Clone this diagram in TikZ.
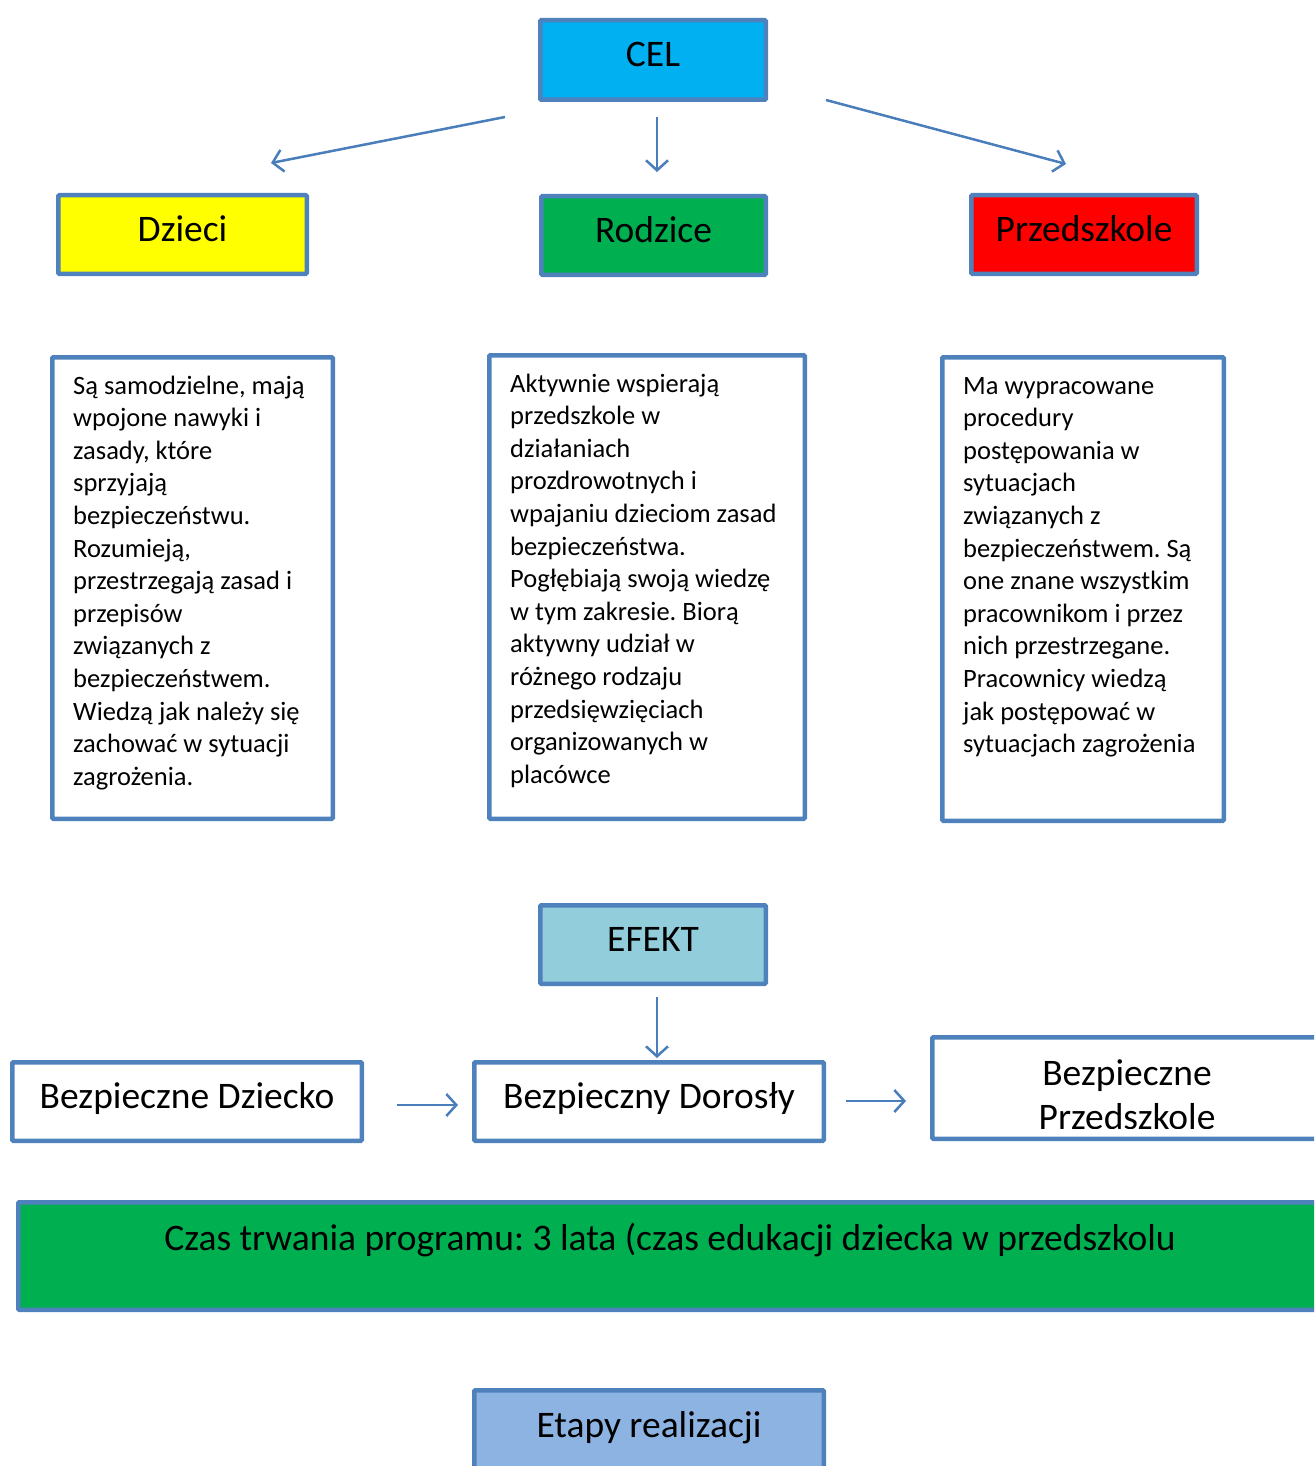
\documentclass[tikz,border=0pt]{standalone}
\usepackage{fontspec}
\setmainfont{Carlito}
\frenchspacing
\usetikzlibrary{arrows.meta}
\definecolor{obrys}{HTML}{4F81BD}
\definecolor{strzalka}{HTML}{4A7EBB}
\definecolor{niebieski}{HTML}{00B0F0}
\definecolor{zolty}{HTML}{FFFF00}
\definecolor{zielony}{HTML}{00B050}
\definecolor{czerwony}{HTML}{FF0000}
\definecolor{jasnyefekt}{HTML}{92CDDC}
\definecolor{jasnyetap}{HTML}{8DB3E2}
\tikzset{
  ramka/.style={draw=obrys, line width=4.5pt, rectangle, rounded corners=1pt, inner sep=0pt,
    font=\fontsize{37.5}{45}\selectfont, text height=24pt, text depth=10pt},
  strz/.style={draw=strzalka, line width=2.5pt, -{Straight Barb[length=10pt,width=22pt]}},
  opis/.style={anchor=base west, inner sep=0pt, font=\fontsize{26.5}{32.6}\selectfont}
}

\begin{document}
\begin{tikzpicture}[x=1pt,y=-1pt]
\useasboundingbox (0,0) rectangle (1314,1466);
\clip (0,0) rectangle (1314,1466);

% gora
\node[ramka, fill=niebieski, minimum width=225.5, minimum height=79.5] (cel) at (653,60) {CEL};
\node[ramka, fill=zolty, minimum width=248.5, minimum height=78.5] (dzieci) at (182.5,234.5) {Dzieci};
\node[ramka, fill=zielony, minimum width=224.5, minimum height=78.5] (rodzice) at (653.5,235.5) {Rodzice};
\node[ramka, fill=czerwony, minimum width=225.5, minimum height=78.5] (przedszkole) at (1084,234.5) {Przedszkole};

\coordinate (c1) at (505,117); \coordinate (d1) at (271,163);
\coordinate (c2) at (657,117); \coordinate (d2) at (657,172);
\coordinate (c3) at (826,100); \coordinate (d3) at (1066,164);
\draw[strz] (c1) -- (d1);
\draw[strz] (c2) -- (d2);
\draw[strz] (c3) -- (d3);

% opisy
\node[ramka, minimum width=280.5, minimum height=461.5] (opisdzieci) at (192.5,588) {};
\node[ramka, minimum width=315.5, minimum height=463.5] (opisrodzice) at (647,587) {};
\node[ramka, minimum width=281.5, minimum height=463.5] (opisprzedszkole) at (1083,589) {};

\node[opis] (tekstdzieci) at (73,394) {\parbox[t]{260pt}{\raggedright
Są samodzielne, mają\\ wpojone nawyki i\\ zasady, które\\ sprzyjają\\ bezpieczeństwu.\\
Rozumieją,\\ przestrzegają zasad i\\ przepisów\\ związanych z\\ bezpieczeństwem.\\
Wiedzą jak należy się\\ zachować w sytuacji\\ zagrożenia.}};
\node[opis] (tekstrodzice) at (510,392) {\parbox[t]{290pt}{\raggedright
Aktywnie wspierają\\ przedszkole w\\ działaniach\\ prozdrowotnych i\\ wpajaniu dzieciom zasad\\
bezpieczeństwa.\\ Pogłębiają swoją wiedzę\\ w tym zakresie. Biorą\\ aktywny udział w\\
różnego rodzaju\\ przedsięwzięciach\\ organizowanych w\\ placówce}};
\node[opis] (tekstprzedszkole) at (963,394) {\parbox[t]{260pt}{\raggedright
Ma wypracowane\\ procedury\\ postępowania w\\ sytuacjach\\ związanych z\\
bezpieczeństwem. Są\\ one znane wszystkim\\ pracownikom i przez\\ nich przestrzegane.\\
Pracownicy wiedzą\\ jak postępować w\\ sytuacjach zagrożenia}};

% efekt
\node[ramka, fill=jasnyefekt, minimum width=225.5, minimum height=78.5] (efekt) at (653,944.5) {EFEKT};
\node[ramka, minimum width=349.5, minimum height=78.5] (dziecko) at (187,1101.5) {Bezpieczne Dziecko};
\node[ramka, minimum width=349.5, minimum height=78.5] (dorosly) at (649,1101.5) {Bezpieczny Dorosły};
\node[ramka, minimum width=389.5, minimum height=101.5] (bezpprzedszkole) at (1127,1088) {};
\begin{scope}
\clip (934,1039) rectangle (1320,1128);
\node[anchor=base, inner sep=0pt, font=\fontsize{37.5}{44}\selectfont] (tekstbezp1) at (1127,1085) {Bezpieczne};
\node[anchor=base, inner sep=0pt, font=\fontsize{37.5}{44}\selectfont] (tekstbezp2) at (1127,1129) {Przedszkole};
\end{scope}

\coordinate (e1) at (657,997); \coordinate (f1) at (657,1058);
\coordinate (e2) at (397,1105); \coordinate (f2) at (458,1105);
\coordinate (e3) at (846,1101); \coordinate (f3) at (906,1101);
\draw[strz] (e1) -- (f1);
\draw[strz] (e2) -- (f2);
\draw[strz] (e3) -- (f3);

% czas trwania
\node[ramka, fill=zielony, minimum width=1303.5, minimum height=107.5] (czas) at (670,1256) {};
\node[anchor=base, inner sep=0pt, font=\fontsize{37.5}{45}\selectfont] (tekstczas) at (670,1250)
  {Czas trwania programu: 3 lata (czas edukacji dziecka w przedszkolu};

% etapy
\node[ramka, fill=jasnyetap, minimum width=349.5, minimum height=87.5] (etapy) at (649,1434) {};
\node[anchor=base, inner sep=0pt, font=\fontsize{37.5}{45}\selectfont] (tekstetapy) at (649,1437) {Etapy realizacji};
\end{tikzpicture}
\end{document}
